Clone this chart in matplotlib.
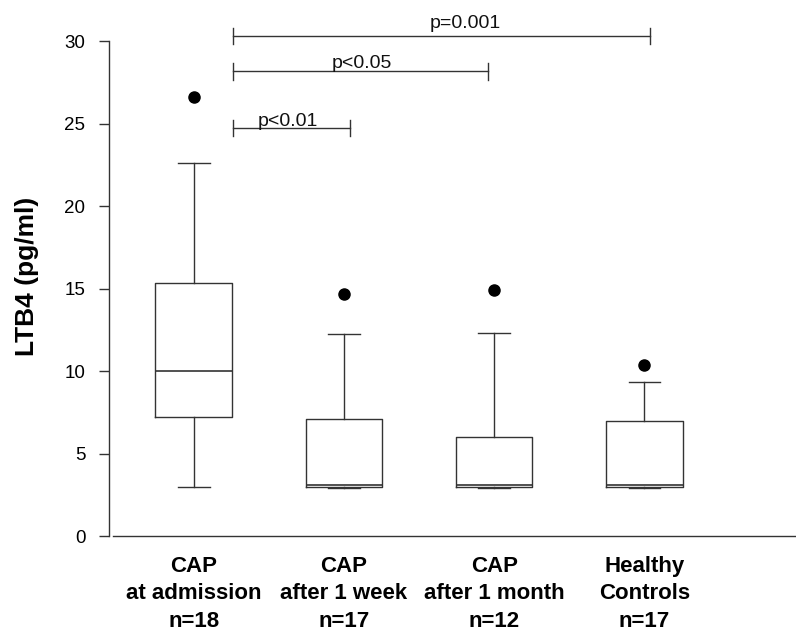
import matplotlib
matplotlib.use("Agg")
import matplotlib.pyplot as plt

plt.rcParams['font.family'] = ['Liberation Sans', 'DejaVu Sans']

# box statistics (LTB4, pg/ml)
groups = ['CAP\nat admission\nn=18', 'CAP\nafter 1 week\nn=17',
          'CAP\nafter 1 month\nn=12', 'Healthy\nControls\nn=17']
whis_low = [3.0, 2.9, 2.9, 2.9]
q1 = [7.25, 3.0, 3.0, 3.0]
medians = [10.0, 3.1, 3.1, 3.1]
q3 = [15.35, 7.1, 6.0, 6.95]
whis_high = [22.6, 12.25, 12.3, 9.35]
outliers = [[26.6], [14.65], [14.95], [10.4]]

# significance comparisons
p_labels = ['p<0.01', 'p<0.05', 'p=0.001']
p_heights = [24.74, 28.17, 30.33]

# bracket layout (ends, label x, label lift)
br_start = [1.26, 1.26, 1.26]
br_end = [2.04, 2.96, 4.04]
label_x = [1.63, 2.12, 2.81]
label_lift = [0.14, 0.22, 0.48]

stats = []
for i in range(len(groups)):
    stats.append(dict(whislo=whis_low[i], q1=q1[i], med=medians[i], q3=q3[i],
                      whishi=whis_high[i], fliers=outliers[i]))

fig = plt.figure(figsize=(7.96, 6.33), dpi=100)
ax = fig.add_axes([0.137, 0.153, 0.863, 0.821])

lc = '#333333'
ax.bxp(stats, positions=[1, 2, 3, 4], widths=0.51, showfliers=True,
       boxprops=dict(color=lc, linewidth=1.0),
       medianprops=dict(color=lc, linewidth=1.2),
       whiskerprops=dict(color=lc, linewidth=1.0),
       capprops=dict(color=lc, linewidth=1.0),
       capwidths=0.21,
       flierprops=dict(marker='o', markerfacecolor='black', markeredgecolor='black',
                       markersize=8))

for i in range(len(p_labels)):
    x0, x1, y = br_start[i], br_end[i], p_heights[i]
    ax.plot([x0, x1], [y, y], color=lc, linewidth=1.0)
    ax.plot([x0, x0], [y - 0.5, y + 0.5], color=lc, linewidth=1.0)
    ax.plot([x1, x1], [y - 0.5, y + 0.5], color=lc, linewidth=1.0)
    ax.text(label_x[i], y + label_lift[i], p_labels[i], ha='center', va='baseline',
            fontsize=14, color='#111111')

ax.set_xlim(0.436, 5.01)
ax.set_ylim(0, 31.5)
ax.spines['top'].set_visible(False)
ax.spines['right'].set_visible(False)
ax.spines['left'].set_bounds(0, 30)
ax.spines['bottom'].set_bounds(0.463, 5.01)
for s in ['left', 'bottom']:
    ax.spines[s].set_color(lc)
    ax.spines[s].set_linewidth(1.0)

ax.set_yticks([0, 5, 10, 15, 20, 25, 30])
ax.tick_params(axis='y', length=7, width=1.0, color=lc, pad=10, labelsize=13.5)
ax.set_xticks([1, 2, 3, 4])
ax.set_xticklabels(groups, fontsize=16, fontweight='bold', linespacing=1.42)
ax.tick_params(axis='x', length=0, pad=14)

ax.set_ylabel('LTB4 (pg/ml)', fontsize=19, fontweight='bold', labelpad=18)

fig.savefig('out.png', dpi=100, facecolor='white')
